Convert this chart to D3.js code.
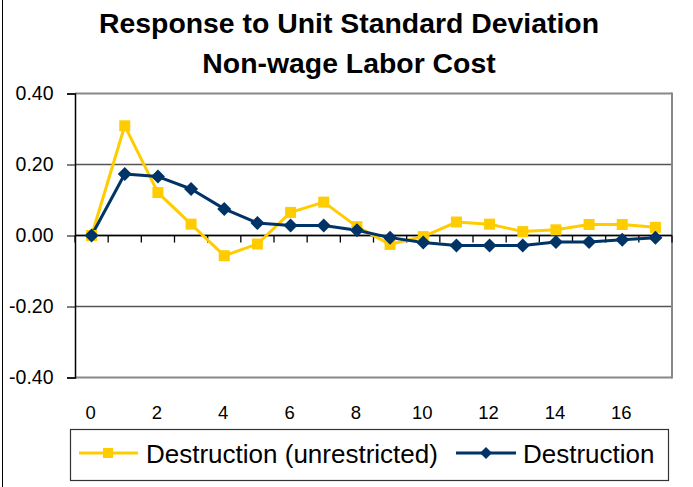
<!DOCTYPE html>
<html><head><meta charset="utf-8">
<script src="https://cdn.jsdelivr.net/npm/d3@7"></script>
<style>
body{margin:0;background:#fff;}
svg{display:block;font-family:Arial,"Liberation Sans",sans-serif;}
</style></head>
<body><svg id="c" width="693" height="487"></svg>
<script>
const categories = d3.range(0, 18);
const unrestricted = [0.000, 0.309, 0.121, 0.032, -0.057, -0.024, 0.065, 0.094, 0.025, -0.025, -0.003, 0.038, 0.032, 0.011, 0.016, 0.031, 0.031, 0.023];
const restricted = [0.000, 0.173, 0.166, 0.131, 0.075, 0.035, 0.028, 0.028, 0.015, -0.006, -0.020, -0.028, -0.028, -0.028, -0.018, -0.018, -0.012, -0.006];
const yTicks = [-0.4, -0.2, 0, 0.2, 0.4];
const xLabels = [0, 2, 4, 6, 8, 10, 12, 14, 16];
const titleLines = ["Response to Unit Standard Deviation", "Non-wage Labor Cost"];
const seriesNames = ["Destruction (unrestricted)", "Destruction"];

const svg = d3.select("#c");
const L = 75, R = 672, T = 93.5, B = 377.5;
const x = d3.scaleBand().domain(categories).range([L, R]).padding(0);
const y = d3.scaleLinear().domain([-0.4, 0.4]).range([B, T]);
const cx = d => x(d) + x.bandwidth() / 2;

// outer chart border
svg.append("rect").attr("x", 2.5).attr("y", -2).attr("width", 700).attr("height", 500)
  .attr("fill", "none").attr("stroke", "#000").attr("stroke-width", 1);

// title
svg.append("g").selectAll("text").data(titleLines).join("text")
  .attr("x", 349).attr("y", (d, i) => 33 + i * 40)
  .attr("text-anchor", "middle").attr("font-weight", "bold").attr("font-size", 28.4)
  .attr("fill", "#000").text(d => d);

// gridlines
svg.append("g").selectAll("line").data(yTicks).join("line")
  .attr("x1", L).attr("x2", R).attr("y1", d => y(d)).attr("y2", d => y(d))
  .attr("stroke", d => (d === 0.4 || d === -0.4) ? "#888" : "#555")
  .attr("stroke-width", d => (d === 0.4 || d === -0.4) ? 2 : 1.3);
// right border
svg.append("line").attr("x1", R).attr("x2", R).attr("y1", T - 1).attr("y2", B + 1)
  .attr("stroke", "#888").attr("stroke-width", 2);

// y axis
const fmt = d3.format(".2f");
const yAxis = d3.axisLeft(y).tickValues(yTicks).tickSize(8).tickPadding(13.5)
  .tickFormat(d => fmt(d).replace("\u2212", "-"));
const gy = svg.append("g").attr("transform", `translate(${L},0)`).call(yAxis);
gy.select(".domain").attr("stroke", "#000").attr("stroke-width", 1.5);
gy.selectAll(".tick line").attr("stroke", "#000");
gy.selectAll("text").attr("font-size", 19.5).attr("fill", "#000")
  .attr("font-family", "Arial, 'Liberation Sans', sans-serif");

// x axis on zero line with ticks at category boundaries
const bounds = d3.range(0, categories.length + 1).map(i => L + i * x.bandwidth());
svg.append("line").attr("x1", L).attr("x2", R).attr("y1", y(0)).attr("y2", y(0))
  .attr("stroke", "#000").attr("stroke-width", 1.3);
svg.append("g").selectAll("line").data(bounds).join("line")
  .attr("x1", d => d).attr("x2", d => d).attr("y1", y(0)).attr("y2", y(0) + 7)
  .attr("stroke", "#000").attr("stroke-width", 1.3);
svg.append("g").selectAll("text").data(xLabels).join("text")
  .attr("x", d => cx(d) - 1).attr("y", 418.5).attr("text-anchor", "middle")
  .attr("font-size", 18.5).attr("fill", "#000").text(d => d);

// series
const line = d3.line().x((d, i) => cx(categories[i])).y(d => y(d));
const colors = ["#FFCC00", "#003366"];
const data = [unrestricted, restricted];
data.forEach((s, k) => {
  svg.append("path").datum(s).attr("d", line).attr("fill", "none")
    .attr("stroke", colors[k]).attr("stroke-width", 3).attr("stroke-linejoin", "round");
});
// markers
svg.append("g").selectAll("rect").data(unrestricted).join("rect")
  .attr("x", (d, i) => cx(categories[i]) - 5.5).attr("y", d => y(d) - 5.5)
  .attr("width", 11).attr("height", 11).attr("fill", colors[0]);
const diamond = "M0,-7L7,0L0,7L-7,0Z";
svg.append("g").selectAll("path").data(restricted).join("path")
  .attr("transform", (d, i) => `translate(${cx(categories[i])},${y(d)})`)
  .attr("d", diamond).attr("fill", colors[1]);

// legend
const lg = svg.append("g");
lg.append("rect").attr("x", 70.5).attr("y", 429.5).attr("width", 598).attr("height", 51)
  .attr("fill", "#fff").attr("stroke", "#333").attr("stroke-width", 1.2);
const ly = 453;
lg.append("line").attr("x1", 79).attr("x2", 138).attr("y1", ly).attr("y2", ly)
  .attr("stroke", colors[0]).attr("stroke-width", 3);
lg.append("rect").attr("x", 103).attr("y", ly - 5).attr("width", 10).attr("height", 10).attr("fill", colors[0]);
lg.append("text").attr("x", 146).attr("y", ly + 10).attr("font-size", 26).attr("fill", "#000").text(seriesNames[0]);
lg.append("line").attr("x1", 456).attr("x2", 516).attr("y1", ly).attr("y2", ly)
  .attr("stroke", colors[1]).attr("stroke-width", 3);
lg.append("path").attr("transform", `translate(486,${ly})`).attr("d", "M0,-6L6,0L0,6L-6,0Z").attr("fill", colors[1]);
lg.append("text").attr("x", 523).attr("y", ly + 10).attr("font-size", 26).attr("fill", "#000").text(seriesNames[1]);
</script></body></html>
